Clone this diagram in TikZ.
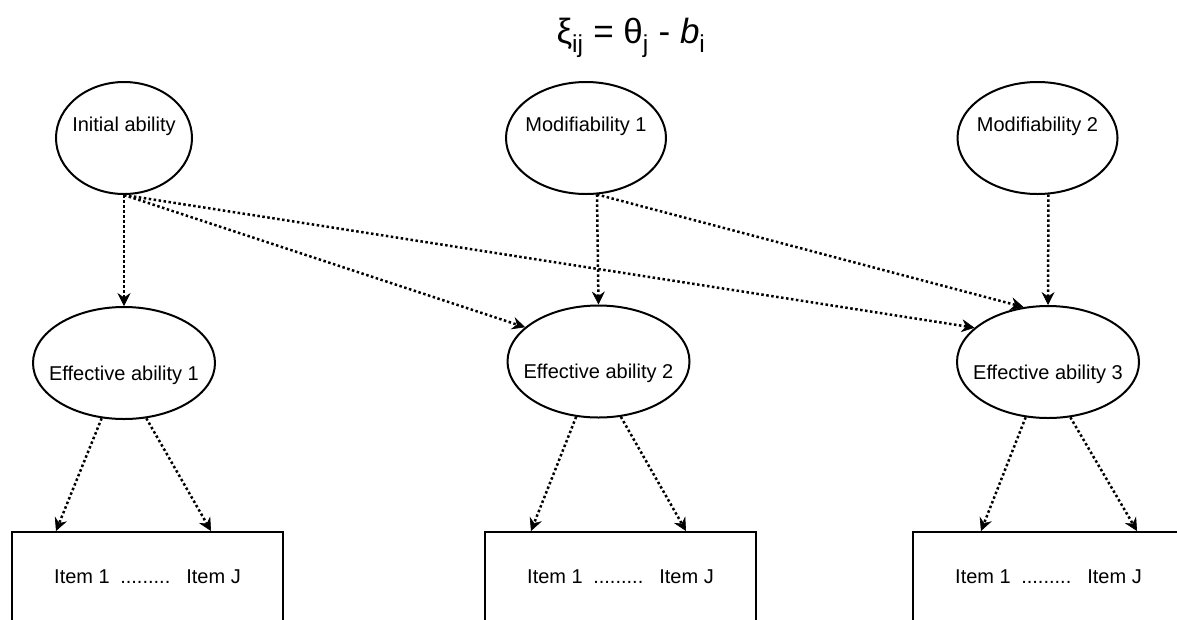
\documentclass[tikz,border=0pt]{standalone}
\usepackage{fontspec}
\setmainfont{Liberation Sans}
\usetikzlibrary{shapes.geometric,arrows.meta,calc}

\begin{document}
\begin{tikzpicture}[x=1pt,y=-1pt,
  latent/.style={ellipse, draw, line width=2pt, inner sep=0pt,
                 minimum width=#1, minimum height=112pt},
  itembox/.style={rectangle, draw, line width=2pt, inner sep=0pt,
                  minimum width=271pt, minimum height=89pt,
                  font=\fontsize{20pt}{24pt}\selectfont},
  lbl/.style={anchor=base, inner sep=0pt, font=\fontsize{20pt}{24pt}\selectfont},
  link/.style={line width=2.5pt, dash pattern=on 2.5pt off 2.5pt,
               -{Stealth[length=13pt, width=13pt, inset=4.5pt, line width=0.6pt]}}]

\useasboundingbox (0,0) rectangle (1177,619);
\clip (0,0) rectangle (1177,619);

% formula
\node[anchor=base, inner sep=0pt, font=\fontsize{35pt}{42pt}\selectfont] (title) at (631,43)
  {ξ\textsubscript{ij} = θ\textsubscript{j} - \textit{b}\textsubscript{i}};

% latent variables
\node[latent=136pt] (ia) at (124,138) {};
\node[latent=160pt] (m1) at (586,138) {};
\node[latent=160pt] (m2) at (1037.5,138) {};
\node[latent=182pt] (e1) at (124,363) {};
\node[latent=182pt] (e2) at (598.5,361.5) {};
\node[latent=182pt] (e3) at (1048,362) {};

\node[lbl] (ial) at ($(ia.center)+(0,-7)$) {Initial ability};
\node[lbl] (m1l) at ($(m1.center)+(0,-7)$) {Modifiability 1};
\node[lbl] (m2l) at ($(m2.center)+(0,-7)$) {Modifiability 2};
\node[lbl] (e1l) at ($(e1.center)+(0,17)$) {Effective ability 1};
\node[lbl] (e2l) at ($(e2.center)+(0,17)$) {Effective ability 2};
\node[lbl] (e3l) at ($(e3.center)+(0,17)$) {Effective ability 3};

% item blocks
\newcommand{\itemrow}{Item 1\hspace{10.5pt}.........\hspace{16pt}Item J}
\node[itembox] (r1) at (147.5,576.5) {\itemrow};
\node[itembox] (r2) at (620.5,576.5) {\itemrow};
\node[itembox] (r3) at (1048.5,576.5) {\itemrow};

% paths
\draw[link] (ia.south) -- (e1.north);
\draw[link] (ia.south) -- (e2.155);
\draw[link] (ia.south) -- (e3.155);
\draw[link] (m1.-79) -- (e2.north);
\draw[link] (m1.-79) -- (e3.114);
\draw[link] (m2.-79) -- (e3.north);

\draw[link] (e1.-112) -- ($(r1.north west)+(45,0)$);
\draw[link] (e1.-68) -- ($(r1.north west)+(200,0)$);
\draw[link] (e2.-112) -- ($(r2.north west)+(47,0)$);
\draw[link] (e2.-68) -- ($(r2.north west)+(202,0)$);
\draw[link] (e3.-112) -- ($(r3.north west)+(69,0)$);
\draw[link] (e3.-68) -- ($(r3.north west)+(225,0)$);
\end{tikzpicture}
\end{document}
